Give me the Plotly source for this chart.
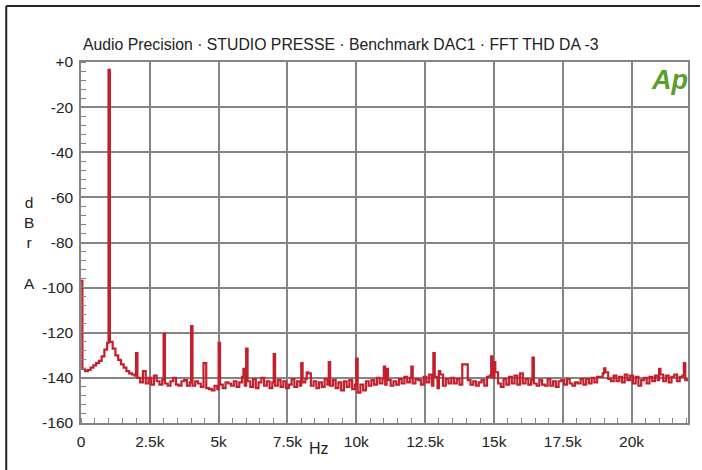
import numpy as np
import plotly.graph_objects as go

# ---- data ----
floor_start_hz = 50
floor_step_hz = 100
floor_dbra = [
    -136, -137, -136.5, -135.5, -134.5, -133.5, -132.5, -130.5, -127.5, -124.5,
    -124, -127, -130, -132, -134, -135.5, -137, -138, -138.5, -139,
    -140, -142, -137, -142.5, -140, -143, -139, -141.5, -143, -141,
    -142.5, -143.5, -141.5, -140, -143, -143.5, -141.5, -141, -143.5, -142,
    -143.5, -141.5, -142.5, -144, -141.5, -144.5, -145, -145.5, -143.5, -145,
    -143, -144.5, -142, -142.5, -143.5, -141.5, -144, -142, -139.5, -143.5,
    -141.5, -144, -140.5, -144.5, -142, -140, -143.5, -141.5, -144.5, -142,
    -143.5, -141, -144, -141.5, -144.5, -143, -140.5, -144, -141.5, -143.5,
    -142, -140.5, -138, -143.5, -141.5, -144.5, -142, -144, -140.5, -143,
    -143.5, -141, -144.5, -142, -145.5, -141.5, -144, -141, -145, -143,
    -146.5, -143, -145.5, -141.5, -143.5, -141, -143, -140, -142.5, -140.5,
    -143, -141, -143.5, -141.5, -143, -140.5, -142.5, -139.5, -142, -140,
    -142.5, -140.5, -141, -143, -139.5, -142, -138.5, -143.5, -139.5, -144.5,
    -138.5, -143.5, -140.5, -142.5, -140, -142.5, -140.5, -143, -134, -134,
    -141, -143, -141.5, -143.5, -142, -141, -143.5, -139.5, -139, -140,
    -137.5, -142.5, -144, -140.5, -143, -139.5, -142.5, -139, -143, -138,
    -142.5, -140.5, -143, -141, -142.5, -143.5, -141, -143, -143.5, -140.5,
    -143.5, -141.5, -144, -141.5, -141, -143, -140.5, -142.5, -143.5, -142,
    -142.5, -140.5, -143, -140.5, -142.5, -140, -142, -139.5, -139.5, -138,
    -137.5, -140.5, -141.5, -139, -141.5, -139.5, -142, -138.5, -141, -139,
    -142.5, -139.5, -143.5, -141, -140, -142.5, -139.5, -141.5, -139, -141,
    -138.5, -141.5, -139, -142, -139.5, -138.5, -141.5, -139.5, -139, -141,
    -140.5,
]
spike_hz = [0, 1000, 2000, 3000, 4000, 4450, 5000, 5900, 6000, 7000, 8000, 8200,
            9000, 10000, 11000, 11100, 12000, 12800, 13000, 14900, 15020, 16400,
            19000, 21000, 21900]
spike_dbra = [-97, -3.5, -129, -120.5, -117, -133.5, -124.5, -136, -127, -129.5,
              -133.5, -137.5, -133, -131.5, -135, -136, -135, -129, -137, -130.5,
              -133, -131, -135.8, -136, -133.5]

x_tick_vals = [0, 2500, 5000, 7500, 10000, 12500, 15000, 17500, 20000]
x_tick_text = ["0", "2.5k", "5k", "7.5k", "10k", "12.5k", "15k", "17.5k", "20k"]
y_tick_vals = [-160, -140, -120, -100, -80, -60, -40, -20, 0]
y_tick_text = ["-160", "-140", "-120", "-100", "-80", "-60", "-40", "-20", "+0"]

# ---- build trace ----
floor_hz = [floor_start_hz + i * floor_step_hz for i in range(len(floor_dbra))]
pts = sorted(list(zip(floor_hz, floor_dbra)) + list(zip(spike_hz, spike_dbra)))
xs = [p[0] for p in pts]
ys = [p[1] for p in pts]

RED = "#c41f2d"
GRID = "#858585"
FONT = "Liberation Sans, Arial, sans-serif"

fig = go.Figure()
fig.add_trace(go.Scatter(x=xs, y=ys, mode="lines", line=dict(color=RED, width=2.2, shape="hv"),
                         hoverinfo="skip", showlegend=False))

L, R, T, B = 81, 690, 62, 423
W, H = 702, 470
pw, ph = R - L, B - T

def px(x):
    return (x - L) / pw

def py(y):
    return (B - y) / ph

fig.update_layout(
    width=W, height=H,
    margin=dict(l=L, r=W - R, t=T, b=H - B, pad=0),
    paper_bgcolor="white", plot_bgcolor="white",
    font=dict(family=FONT, size=15.5, color="#222222"),
    xaxis=dict(range=[0, 22050], tickvals=x_tick_vals, ticktext=x_tick_text,
               showgrid=True, gridcolor=GRID, gridwidth=1.5, zeroline=False,
               showline=True, linecolor=GRID, linewidth=1.5, mirror=True,
               ticks="", ticklabelstandoff=4,
               minor=dict(dtick=500, tick0=0, ticks="inside", ticklen=5, tickcolor=GRID,
                          tickwidth=1, showgrid=False)),
    yaxis=dict(range=[-160, 0], tickvals=y_tick_vals, ticktext=y_tick_text,
               showgrid=True, gridcolor=GRID, gridwidth=1.5, zeroline=False,
               showline=True, linecolor=GRID, linewidth=1.5, mirror=True,
               ticks="", ticklabelstandoff=3,
               minor=dict(dtick=4, tick0=0, ticks="inside", ticklen=5, tickcolor=GRID,
                          tickwidth=1, showgrid=False)),
)

fig.add_annotation(text="Audio Precision · STUDIO PRESSE · Benchmark DAC1 · FFT THD DA -3",
                   xref="paper", yref="paper", x=px(342), y=py(44), showarrow=False,
                   font=dict(size=15.8, color="#222222"), xanchor="center", yanchor="middle")
fig.add_annotation(text="Hz", xref="paper", yref="paper", x=px(320), y=py(448), showarrow=False,
                   font=dict(size=16, color="#222222"), xanchor="center", yanchor="middle")
fig.add_annotation(text="d<br>B<br>r<br><br>A", xref="paper", yref="paper", x=px(29), y=py(243),
                   showarrow=False, font=dict(size=15.5, color="#222222"),
                   xanchor="center", yanchor="middle", align="center")
fig.add_annotation(text="<b><i>Ap</i></b>", xref="paper", yref="paper", x=px(671), y=py(80),
                   showarrow=False, font=dict(size=27, color="#5a9e2f", family="Liberation Sans, Arial"),
                   xanchor="center", yanchor="middle")

# outer frame (top and left edges)
fig.add_shape(type="line", xref="paper", yref="paper", x0=px(6), x1=px(W), y0=py(6), y1=py(6),
              line=dict(color="#222222", width=2))
fig.add_shape(type="line", xref="paper", yref="paper", x0=px(6), x1=px(6), y0=py(6), y1=py(H),
              line=dict(color="#222222", width=2))

fig.write_html("out.html")
